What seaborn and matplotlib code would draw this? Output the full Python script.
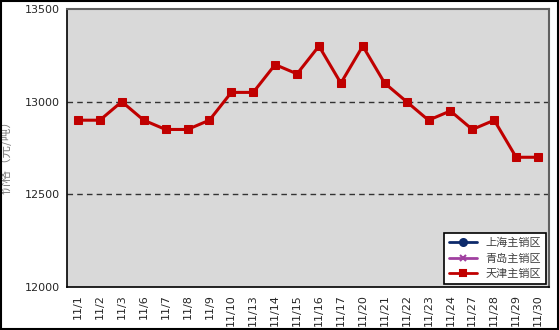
import numpy as np
import pandas as pd
import seaborn as sns
import matplotlib
matplotlib.use("Agg")
import matplotlib.pyplot as plt
from matplotlib.lines import Line2D
from matplotlib.patches import Rectangle

dates = ["11/1", "11/2", "11/3", "11/6", "11/7", "11/8", "11/9", "11/10", "11/13", "11/14",
         "11/15", "11/16", "11/17", "11/20", "11/21", "11/22", "11/23", "11/24", "11/27",
         "11/28", "11/29", "11/30"]
tianjin = [12900, 12900, 13000, 12900, 12850, 12850, 12900, 13050, 13050, 13200,
           13150, 13300, 13100, 13300, 13100, 13000, 12900, 12950, 12850, 12900, 12700, 12700]
series_names = ["上海主销区", "青岛主销区", "天津主销区"]
series_colors = ["#0d2a6b", "#a040a0", "#c00000"]
series_markers = ["o", "x", "s"]
yticks = [12000, 12500, 13000, 13500]

sns.set_theme(style="white")
plt.rcParams['font.family'] = ['Noto Sans CJK SC', 'DejaVu Sans']

fig = plt.figure(figsize=(5.59, 3.30), dpi=100)
ax = fig.add_axes([67/559, 1-287/330, (549-67)/559, (287-9)/330])
ax.set_facecolor("#d9d9d9")

df = pd.DataFrame({"date": dates, "price": tianjin, "x": np.arange(len(dates))})
sns.lineplot(data=df, x="x", y="price", ax=ax, color=series_colors[2], marker="s",
             markersize=6, linewidth=2.2, markeredgecolor=series_colors[2], legend=False)

ax.set_xlim(-0.5, len(dates) - 0.5)
ax.set_ylim(12000, 13500)
ax.set_yticks(yticks)
ax.set_yticklabels([str(v) for v in yticks], fontsize=8, family=['DejaVu Sans'])
ax.tick_params(axis='y', length=0, pad=5)
ax.set_xticks(np.arange(len(dates)))
ax.set_xticklabels(dates, rotation=90, fontsize=8, family=['DejaVu Sans'])
ax.tick_params(axis='x', length=0, pad=5)
ax.set_xticks(np.arange(len(dates)) + 0.5, minor=True)
ax.tick_params(axis='x', which='minor', length=4, direction='out', color='black', width=1)
for v in [12500, 13000]:
    ax.axhline(v, color="#333333", linestyle=(0, (4, 3)), linewidth=1, zorder=1)
ax.set_xlabel("")
ax.set_ylabel("价格（元/吨）", fontsize=9, color="#808080")
ax.yaxis.set_label_coords(-0.112, 0.478)

for s in ["left", "bottom"]:
    ax.spines[s].set_color("black")
    ax.spines[s].set_linewidth(1.2)
for s in ["top", "right"]:
    ax.spines[s].set_color("#606060")
    ax.spines[s].set_linewidth(1.5)

handles = [Line2D([0], [0], color=c, marker=m, markersize=5, linewidth=2,
                  markeredgecolor=c, markeredgewidth=1.5)
           for c, m in zip(series_colors, series_markers)]
leg = ax.legend(handles, series_names, loc="lower right", fontsize=8,
                frameon=True, fancybox=False, edgecolor="black", framealpha=1,
                borderaxespad=0.3, handlelength=2.5, labelspacing=0.5,
                prop={'family': ['Noto Sans CJK SC', 'DejaVu Sans'], 'size': 8})
leg.get_frame().set_linewidth(1.2)
for t in leg.get_texts():
    t.set_color("#404040")

fig.patches.append(Rectangle((0.001, 0.002), 0.997, 0.995, transform=fig.transFigure,
                             fill=False, edgecolor="black", linewidth=1.5))

fig.savefig("out.png", dpi=100)
